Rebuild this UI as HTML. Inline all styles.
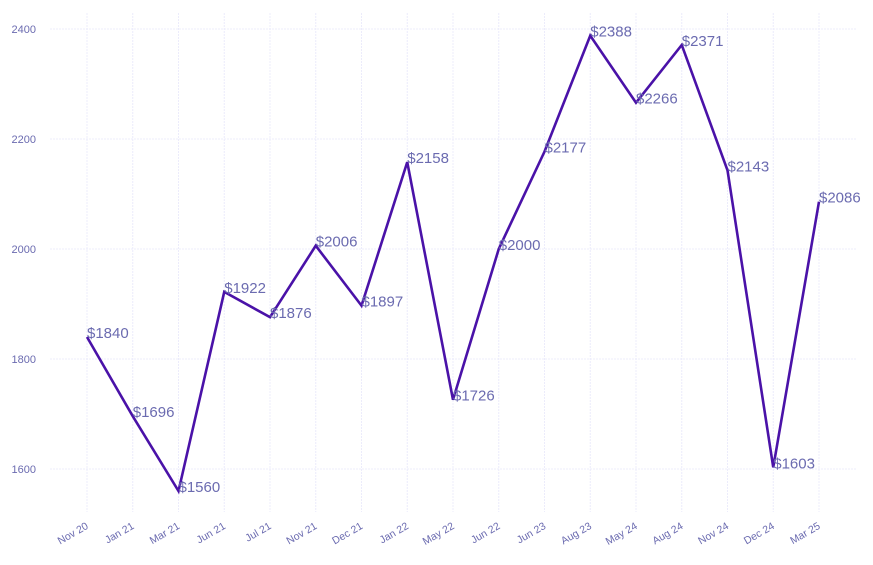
<!DOCTYPE html>
<html><head><meta charset="utf-8"><style>
body{margin:0;background:#fff;}
svg{display:block;font-family:"Liberation Sans",sans-serif;}
</style></head><body>
<svg id="chart" width="873" height="565" viewBox="0 0 873 565"></svg>
<script>
const categories=["Nov 20","Jan 21","Mar 21","Jun 21","Jul 21","Nov 21","Dec 21","Jan 22","May 22","Jun 22","Jun 23","Aug 23","May 24","Aug 24","Nov 24","Dec 24","Mar 25"];
const values=[1840,1696,1560,1922,1876,2006,1897,2158,1726,2000,2177,2388,2266,2371,2143,1603,2086];
const yTicks=[1600,1800,2000,2200,2400];
const NS="http://www.w3.org/2000/svg";
const svg=document.getElementById('chart');
const x0=87,dx=45.75;
function xs(i){return x0+i*dx;}
function ys(v){return 469-(v-1600)*0.55;}
function el(t,a,p){const e=document.createElementNS(NS,t);for(const k in a)e.setAttribute(k,a[k]);(p||svg).appendChild(e);return e;}
const grid=el('g',{});


yTicks.forEach(v=>{
  const l=el('line',{x1:50,x2:856,y1:ys(v),y2:ys(v),stroke:'#ececfb','stroke-width':1,'stroke-dasharray':'2,1'},grid);
  
  
  const t=el('text',{x:36,y:ys(v)+4,'text-anchor':'end','font-size':11,fill:'#6b6bb0'});
  t.textContent=v;
  
  
});
categories.forEach((c,i)=>{
  const l=el('line',{x1:xs(i),x2:xs(i),y1:13,y2:512,stroke:'#ececfb','stroke-width':1,'stroke-dasharray':'2,1'},grid);
  
  
  const t=el('text',{x:xs(i)+2,y:528,'text-anchor':'end','font-size':10.5,fill:'#6b6bb0',transform:`rotate(-30 ${xs(i)+2} 528)`});
  t.textContent=c;
  
  
});
const pts=values.map((v,i)=>xs(i)+','+ys(v)).join(' ');
const line=el('polyline',{points:pts,fill:'none',stroke:'#4a12a8','stroke-width':2.6,'stroke-linejoin':'miter'});


values.forEach((v,i)=>{
  const t=el('text',{x:xs(i),y:ys(v)+1,'font-size':15,fill:'#6b6bb0'});
  t.textContent='$'+v;
  
  
});
</script>
</body></html>
